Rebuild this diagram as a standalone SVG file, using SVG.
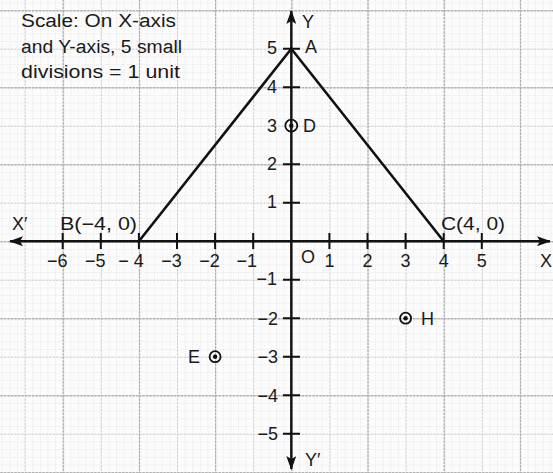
<svg xmlns="http://www.w3.org/2000/svg" width="553" height="473" viewBox="0 0 553 473">
<style>
text{font-family:"Liberation Sans",Arial,sans-serif;font-size:18px;fill:#1a1a1a}
.xl{text-anchor:middle}
.xn{text-anchor:end}
.yl{text-anchor:end}
.ax{stroke:#111;stroke-width:2.4;fill:none}
.tk{stroke:#111;stroke-width:2}
.side{stroke:#111;stroke-width:2.6;fill:none;stroke-linecap:round}
.pt{fill:none;stroke:#111;stroke-width:1.8}
.dot{fill:#111}
</style>
<defs>
<pattern id="minor" patternUnits="userSpaceOnUse" x="291.3" y="241.2" width="7.62" height="7.7">
<path d="M0.5 0V7.7M0 0.5H7.62" stroke="#e6e6e6" stroke-width="0.8" stroke-dasharray="1.5 1"/>
</pattern>
<pattern id="unit" patternUnits="userSpaceOnUse" x="291.3" y="241.2" width="38.1" height="38.5">
<path d="M0.5 0V38.5M0 0.5H38.1" stroke="#c8c8c8" stroke-width="1" stroke-dasharray="2 1.5"/>
</pattern>
<pattern id="major" patternUnits="userSpaceOnUse" x="291.3" y="241.2" width="76.2" height="77">
<path d="M0.5 0V77M0 0.5H76.2" stroke="#a8a8a8" stroke-width="1.3" stroke-dasharray="2.5 1"/>
</pattern>
<marker id="arr" viewBox="0 0 14 10" refX="13" refY="5" markerWidth="14" markerHeight="10" markerUnits="userSpaceOnUse" orient="auto">
<path d="M0 0L14 5L0 10L3 5Z" fill="#111"/>
</marker>
</defs>
<rect width="553" height="473" fill="#fcfcfc"/>
<g id="grid">
<rect width="553" height="473" fill="url(#minor)"/>
<rect width="553" height="473" fill="url(#unit)"/>
<rect width="553" height="473" fill="url(#major)"/>
</g>
<g id="scale-note">
<text x="21" y="27" textLength="155" lengthAdjust="spacingAndGlyphs">Scale: On X-axis</text>
<text x="21" y="53" textLength="161" lengthAdjust="spacingAndGlyphs">and Y-axis, 5 small</text>
<text x="21" y="78" textLength="159" lengthAdjust="spacingAndGlyphs">divisions = 1 unit</text>
</g>
<g id="axes">
<line class="ax" x1="150" y1="241.2" x2="550" y2="241.2" marker-end="url(#arr)"/>
<line class="ax" x1="150" y1="241.2" x2="10" y2="241.2" marker-end="url(#arr)"/>
<line class="ax" x1="291.3" y1="241.2" x2="291.3" y2="11" marker-end="url(#arr)"/>
<line class="ax" x1="291.3" y1="241.2" x2="291.3" y2="469" marker-end="url(#arr)"/>
<path class="tk" d="M62.7 233V249M100.8 233V249M138.9 233V249M177 233V249M215.1 233V249M253.2 233V249M329.4 233V249M367.5 233V249M405.6 233V249M443.7 233V249M481.8 233V249"/>
<path class="tk" d="M283 48.7H300M283 87.2H300M283 164.2H300M283 202.7H300M283 279.7H300M283 318.2H300M283 356.7H300M283 395.2H300M283 433.7H300"/>
<text x="12" y="230">X′</text>
<text x="540" y="267">X</text>
<text x="302" y="28">Y</text>
<text x="305" y="466">Y′</text>
<text x="301" y="263">O</text>
<text class="xn" x="67.5" y="267">−6</text>
<text class="xn" x="105.6" y="267">−5</text>
<text class="xn" x="143.7" y="267">− 4</text>
<text class="xn" x="181.8" y="267">−3</text>
<text class="xn" x="219.9" y="267">−2</text>
<text class="xn" x="257" y="267">−1</text>
<text class="xl" x="329.4" y="267">1</text>
<text class="xl" x="367.5" y="267">2</text>
<text class="xl" x="405.6" y="267">3</text>
<text class="xl" x="443.7" y="267">4</text>
<text class="xl" x="481.8" y="267">5</text>
<text class="yl" x="277" y="54">5</text>
<text class="yl" x="277" y="93">4</text>
<text class="yl" x="277" y="132">3</text>
<text class="yl" x="277" y="170">2</text>
<text class="yl" x="277" y="208">1</text>
<text class="yl" x="277" y="285">−1</text>
<text class="yl" x="278" y="325">−2</text>
<text class="yl" x="278" y="363">−3</text>
<text class="yl" x="278" y="402">−4</text>
<text class="yl" x="278" y="440">−5</text>
</g>
<g id="connectors">
<line class="side" x1="138.9" y1="241.2" x2="291.3" y2="48.7"/>
<line class="side" x1="291.3" y1="48.7" x2="443.7" y2="241.2"/>
</g>
<g id="A"><text x="305" y="53">A</text></g>
<g id="B"><text x="60" y="230" textLength="77" lengthAdjust="spacingAndGlyphs">B(−4, 0)</text></g>
<g id="C"><text x="441" y="230" textLength="64" lengthAdjust="spacingAndGlyphs">C(4, 0)</text></g>
<g id="D"><circle class="pt" cx="291.3" cy="125.7" r="6"/><circle class="dot" cx="291.3" cy="125.7" r="2.2"/><text x="303" y="132">D</text></g>
<g id="E"><circle class="pt" cx="215.1" cy="356.7" r="5.5"/><circle class="dot" cx="215.1" cy="356.7" r="2.2"/><text x="188" y="363">E</text></g>
<g id="H"><circle class="pt" cx="405.6" cy="318.2" r="5.5"/><circle class="dot" cx="405.6" cy="318.2" r="2.2"/><text x="421" y="325">H</text></g>
</svg>
